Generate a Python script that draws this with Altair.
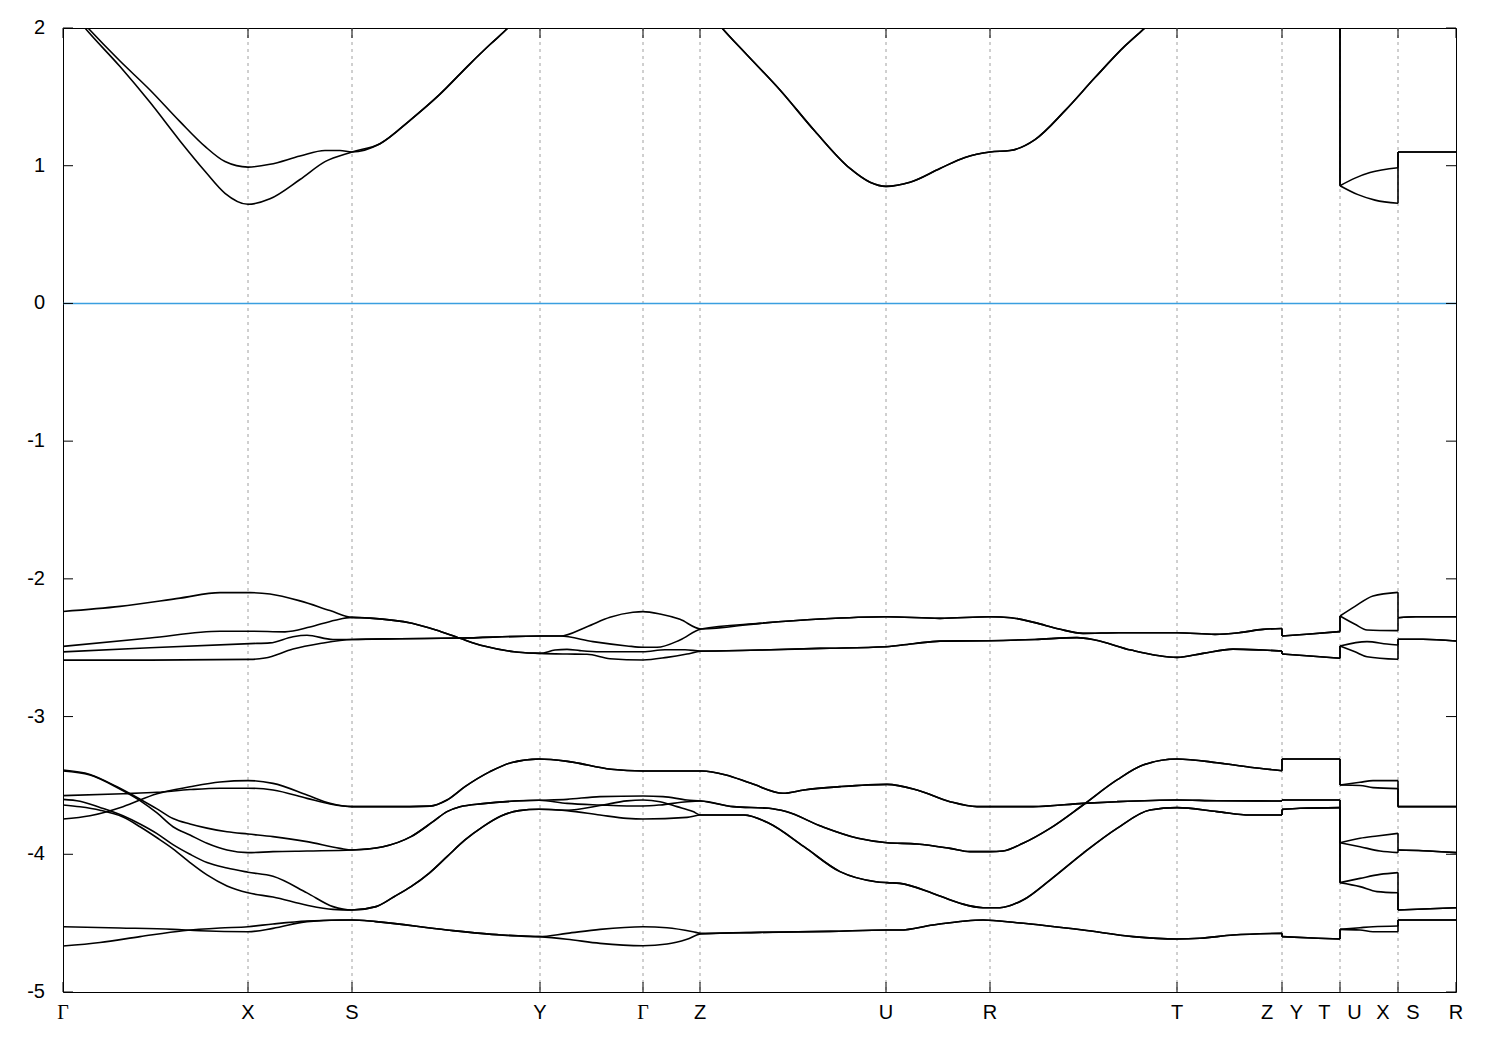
import altair as alt
import pandas as pd

# ---------------- axis ticks ----------------
k_ticks = [63, 248, 352, 540, 643, 700, 886, 990, 1177, 1282, 1340, 1398, 1456]
k_labels = ["Γ", "X", "S", "Y", "Γ", "Z", "U", "R", "T",
            "Z\u00a0\u00a0\u00a0Y", "T\u00a0\u00a0\u00a0U", "X\u00a0\u00a0\u00a0S", "R"]
y_ticks = [-5, -4, -3, -2, -1, 0, 1, 2]

# ---------------- conduction bands (k, E) ----------------
c2_GS = [(63, 2.2), (88, 2.0), (120, 1.76), (150, 1.55), (180, 1.32), (205, 1.14), (225, 1.03),
         (248, 0.99), (270, 1.01), (300, 1.07), (325, 1.11), (340, 1.11), (352, 1.10)]
c1_GS = [(63, 2.2), (85, 2.0), (120, 1.72), (150, 1.46), (180, 1.18), (205, 0.96), (225, 0.80),
         (248, 0.72), (270, 0.76), (300, 0.90), (325, 1.03), (352, 1.10)]
cond_SZ = [(352, 1.10), (380, 1.16), (410, 1.33), (440, 1.52), (470, 1.74), (490, 1.88), (508, 2.0),
           (540, 2.25), (600, 2.5), (643, 2.55), (680, 2.35), (700, 2.2), (722, 2.0), (745, 1.82),
           (780, 1.55), (815, 1.25), (850, 0.98), (870, 0.88), (886, 0.85), (910, 0.88), (940, 0.98),
           (965, 1.06), (990, 1.10), (1010, 1.11), (1035, 1.19), (1065, 1.40), (1095, 1.64),
           (1125, 1.87), (1145, 2.0), (1177, 2.2), (1230, 2.35), (1282, 2.4)]

# ---------------- upper valence group ----------------
u1_GS = [(63, -2.237), (120, -2.20), (180, -2.14), (220, -2.10), (250, -2.10), (270, -2.11),
         (300, -2.16), (330, -2.23), (352, -2.28)]
u2_GS = [(63, -2.49), (150, -2.43), (220, -2.38), (250, -2.38), (285, -2.385), (310, -2.35),
         (335, -2.30), (352, -2.28)]
u3_GS = [(63, -2.53), (150, -2.50), (250, -2.47), (270, -2.465), (293, -2.42), (307, -2.41),
         (333, -2.44), (352, -2.44)]
u4_GS = [(63, -2.59), (150, -2.59), (250, -2.585), (265, -2.575), (293, -2.51), (320, -2.47),
         (352, -2.44)]
hi_SY = [(352, -2.28), (370, -2.285), (412, -2.323), (436, -2.372), (460, -2.432), (484, -2.488),
         (514, -2.529), (540, -2.541)]
lo_SY = [(352, -2.44), (400, -2.435), (460, -2.43), (540, -2.415), (560, -2.415)]
u1_YZ = [(555, -2.517), (567, -2.512), (580, -2.521), (600, -2.529), (643, -2.529), (665, -2.515),
         (685, -2.515), (701, -2.524)]
u2_YZ = [(567, -2.546), (587, -2.548), (610, -2.580), (643, -2.589), (667, -2.57), (687, -2.546),
         (701, -2.526)]
u3_YZ = [(587, -2.347), (610, -2.279), (633, -2.243), (643, -2.238), (660, -2.255), (680, -2.294),
         (701, -2.364)]
u4_YZ = [(593, -2.456), (627, -2.487), (643, -2.497), (657, -2.497), (680, -2.444), (701, -2.364)]
hi_ZZ = [(701, -2.364), (760, -2.323), (820, -2.292), (886, -2.275), (940, -2.287), (990, -2.275),
         (1011, -2.282), (1035, -2.318), (1059, -2.364), (1083, -2.396), (1119, -2.391),
         (1177, -2.391), (1215, -2.403), (1239, -2.391), (1263, -2.367), (1282, -2.36)]
lo_ZZ = [(701, -2.524), (760, -2.517), (820, -2.505), (886, -2.493), (915, -2.469), (940, -2.452),
         (990, -2.449), (1035, -2.44), (1077, -2.427), (1095, -2.444), (1131, -2.517),
         (1177, -2.570), (1203, -2.541), (1233, -2.51), (1263, -2.517), (1282, -2.524)]

# ---------------- lower valence group ----------------
p1_GS = [(63, -3.388), (90, -3.42), (117, -3.51), (140, -3.60), (157, -3.67), (173, -3.74),
         (190, -3.78), (207, -3.81), (227, -3.836), (248, -3.853), (273, -3.872), (307, -3.908),
         (340, -3.957), (352, -3.969)]
p2_GS = [(63, -3.395), (90, -3.425), (117, -3.515), (140, -3.61), (157, -3.70), (173, -3.80),
         (190, -3.86), (207, -3.92), (227, -3.969), (248, -3.988), (273, -3.981), (307, -3.976),
         (352, -3.969)]
p_SY = [(352, -3.969), (383, -3.945), (411, -3.872), (433, -3.763), (447, -3.69), (460, -3.655),
        (483, -3.632), (511, -3.615), (539, -3.608)]
alpha_YZ = [(539, -3.606), (567, -3.601), (600, -3.581), (643, -3.577), (663, -3.581), (687, -3.606),
            (701, -3.613)]
beta_YZ = [(539, -3.61), (567, -3.630), (600, -3.642), (627, -3.649), (643, -3.649), (660, -3.642),
           (687, -3.618), (701, -3.613)]
ab_ZZ = [(701, -3.613), (733, -3.654), (769, -3.666), (786, -3.69), (822, -3.799), (858, -3.884),
         (887, -3.916), (917, -3.925), (950, -3.957), (970, -3.981), (990, -3.981), (1003, -3.976),
         (1023, -3.92), (1050, -3.812), (1083, -3.642), (1117, -3.46), (1143, -3.352),
         (1177, -3.308), (1217, -3.335), (1250, -3.368), (1282, -3.393)]
q_GS = [(63, -3.574), (123, -3.56), (157, -3.55), (190, -3.53), (220, -3.52), (248, -3.52),
        (273, -3.533), (307, -3.594), (330, -3.635), (352, -3.654)]
r_GS = [(63, -3.744), (90, -3.72), (123, -3.654), (157, -3.56), (190, -3.51), (220, -3.475),
        (248, -3.465), (273, -3.485), (307, -3.569), (330, -3.63), (352, -3.654)]
qr_SZ = [(352, -3.654), (390, -3.654), (430, -3.65), (447, -3.606), (465, -3.509), (490, -3.40),
         (511, -3.335), (539, -3.308), (569, -3.327), (611, -3.383), (643, -3.395), (702, -3.395),
         (726, -3.424), (751, -3.485), (783, -3.557), (804, -3.533), (840, -3.509), (887, -3.492),
         (917, -3.533), (950, -3.618), (977, -3.654), (1033, -3.654), (1083, -3.63), (1117, -3.618),
         (1177, -3.606), (1217, -3.611), (1282, -3.613)]
m1_GS = [(63, -3.601), (80, -3.615), (100, -3.66), (123, -3.72), (140, -3.78), (157, -3.85),
         (173, -3.93), (190, -4.00), (207, -4.06), (227, -4.10), (248, -4.13), (273, -4.16),
         (307, -4.28), (333, -4.38), (352, -4.405)]
m2_GS = [(63, -3.642), (80, -3.655), (100, -3.68), (123, -3.73), (140, -3.80), (157, -3.88),
         (173, -3.96), (190, -4.06), (207, -4.15), (227, -4.23), (248, -4.28), (273, -4.31),
         (307, -4.37), (333, -4.40), (352, -4.405)]
m_SY = [(352, -4.405), (376, -4.38), (394, -4.308), (411, -4.235), (429, -4.138), (447, -4.017),
        (465, -3.896), (483, -3.799), (501, -3.722), (519, -3.683), (539, -3.673)]
gamma_YZ = [(539, -3.676), (567, -3.68), (600, -3.646), (627, -3.612), (643, -3.606), (660, -3.618),
            (677, -3.654), (693, -3.69), (701, -3.715)]
delta_YZ = [(539, -3.676), (567, -3.683), (600, -3.715), (627, -3.739), (643, -3.744), (687, -3.732),
            (701, -3.715)]
gd_ZZ = [(701, -3.715), (744, -3.715), (769, -3.775), (804, -3.945), (840, -4.126), (876, -4.199),
         (887, -4.206), (900, -4.211), (933, -4.284), (960, -4.356), (983, -4.388), (1000, -4.388),
         (1023, -4.332), (1050, -4.187), (1083, -3.993), (1117, -3.812), (1150, -3.678),
         (1177, -3.661), (1217, -3.69), (1250, -3.715), (1282, -3.715)]
b1_GS = [(63, -4.526), (120, -4.535), (173, -4.545), (200, -4.555), (248, -4.562), (273, -4.538),
         (307, -4.489), (340, -4.477), (352, -4.477)]
b2_GS = [(63, -4.666), (100, -4.64), (140, -4.598), (183, -4.555), (220, -4.535), (248, -4.526),
         (273, -4.506), (307, -4.485), (352, -4.477)]
b_SY = [(352, -4.477), (376, -4.489), (447, -4.55), (501, -4.586), (539, -4.598)]
b1_YZ = [(539, -4.598), (567, -4.574), (600, -4.545), (643, -4.526), (667, -4.533), (693, -4.562),
         (701, -4.574)]
b2_YZ = [(539, -4.598), (567, -4.617), (600, -4.647), (643, -4.664), (667, -4.652), (687, -4.617),
         (701, -4.579)]
b_ZZ = [(701, -4.576), (760, -4.567), (830, -4.56), (887, -4.55), (900, -4.55), (933, -4.513),
        (983, -4.477), (1017, -4.497), (1083, -4.55), (1133, -4.598), (1177, -4.615), (1200, -4.61),
        (1233, -4.586), (1282, -4.574)]

# ---------------- short pieces after the path breaks (14 bands, top to bottom) ----------------
piece_YT = [
    [(1282, 2.4), (1340, 2.4)], [(1282, 2.4), (1340, 2.4)],
    [(1282, -2.415), (1310, -2.40), (1340, -2.383)], [(1282, -2.415), (1310, -2.40), (1340, -2.383)],
    [(1282, -2.546), (1310, -2.56), (1340, -2.577)], [(1282, -2.546), (1310, -2.56), (1340, -2.577)],
    [(1282, -3.308), (1340, -3.308)], [(1282, -3.308), (1340, -3.308)],
    [(1282, -3.606), (1340, -3.606)], [(1282, -3.606), (1340, -3.606)],
    [(1282, -3.674), (1300, -3.666), (1340, -3.661)], [(1282, -3.674), (1300, -3.666), (1340, -3.661)],
    [(1282, -4.598), (1318, -4.61), (1340, -4.615)], [(1282, -4.598), (1318, -4.61), (1340, -4.615)],
]
piece_UX = [
    [(1340, 0.855), (1355, 0.91), (1370, 0.95), (1398, 0.985)],
    [(1340, 0.855), (1358, 0.79), (1375, 0.75), (1398, 0.727)],
    [(1340, -2.27), (1355, -2.20), (1373, -2.124), (1398, -2.098)],
    [(1340, -2.27), (1355, -2.33), (1367, -2.371), (1398, -2.376)],
    [(1340, -2.488), (1367, -2.456), (1387, -2.473), (1398, -2.48)],
    [(1340, -2.488), (1355, -2.53), (1367, -2.565), (1398, -2.584)],
    [(1340, -3.497), (1360, -3.477), (1373, -3.465), (1398, -3.465)],
    [(1340, -3.497), (1360, -3.50), (1373, -3.516), (1398, -3.523)],
    [(1340, -3.916), (1360, -3.884), (1377, -3.867), (1398, -3.848)],
    [(1340, -3.916), (1360, -3.945), (1380, -3.976), (1398, -3.988)],
    [(1340, -4.206), (1360, -4.175), (1380, -4.146), (1398, -4.133)],
    [(1340, -4.206), (1360, -4.235), (1377, -4.271), (1398, -4.279)],
    [(1340, -4.545), (1360, -4.533), (1373, -4.526), (1398, -4.521)],
    [(1340, -4.545), (1360, -4.55), (1373, -4.562), (1398, -4.562)],
]
piece_SR = [
    [(1398, 1.10), (1456, 1.10)], [(1398, 1.10), (1456, 1.10)],
    [(1398, -2.282), (1416, -2.275), (1456, -2.275)], [(1398, -2.282), (1416, -2.275), (1456, -2.275)],
    [(1398, -2.439), (1423, -2.439), (1456, -2.451)], [(1398, -2.439), (1423, -2.439), (1456, -2.451)],
    [(1398, -3.654), (1456, -3.654)], [(1398, -3.654), (1456, -3.654)],
    [(1398, -3.969), (1423, -3.974), (1456, -3.988)], [(1398, -3.969), (1423, -3.974), (1456, -3.988)],
    [(1398, -4.405), (1456, -4.388)], [(1398, -4.405), (1456, -4.388)],
    [(1398, -4.477), (1456, -4.477)], [(1398, -4.477), (1456, -4.477)],
]


def join(*segs):
    out = []
    for s in segs:
        for k, e in s:
            if out and k <= out[-1][0]:
                continue
            out.append((k, e))
    return out


piece_GZ = [
    join(c2_GS, cond_SZ), join(c1_GS, cond_SZ),
    join(u3_GS, lo_SY, u3_YZ, hi_ZZ), join(u4_GS, lo_SY, u4_YZ, hi_ZZ),
    join(u1_GS, hi_SY, u1_YZ, lo_ZZ), join(u2_GS, hi_SY, u2_YZ, lo_ZZ),
    join(p1_GS, p_SY, alpha_YZ, ab_ZZ), join(p2_GS, p_SY, beta_YZ, ab_ZZ),
    join(q_GS, qr_SZ), join(r_GS, qr_SZ),
    join(m1_GS, m_SY, gamma_YZ, gd_ZZ), join(m2_GS, m_SY, delta_YZ, gd_ZZ),
    join(b1_GS, b_SY, b1_YZ, b_ZZ), join(b2_GS, b_SY, b2_YZ, b_ZZ),
]

pieces = [piece_GZ, piece_YT, piece_UX, piece_SR]
rows, jumps = [], []
for b in range(14):
    for p, piece in enumerate(pieces):
        for k, e in piece[b]:
            rows.append({"seg": f"{b}-{p}", "k": k, "E": e})
        if p > 0:
            prev = pieces[p - 1][b][-1]
            jumps.append({"k": piece[b][0][0], "E1": prev[1], "E2": piece[b][0][1]})
bands = pd.DataFrame(rows)
jump_df = pd.DataFrame(jumps)

W, H = 1393, 964
xs = alt.Scale(domain=[k_ticks[0], k_ticks[-1]], nice=False, zero=False)
ys = alt.Scale(domain=[-5, 2], nice=False, zero=False)
FONT = "Liberation Sans"

lines = alt.Chart(bands).mark_line(color="black", strokeWidth=1.6, interpolate="monotone",
                                   clip=True).encode(
    x=alt.X("k:Q", scale=xs, axis=None),
    y=alt.Y("E:Q", scale=ys, axis=None),
    detail="seg:N",
)

grid = alt.Chart(pd.DataFrame({"k": k_ticks[1:-1]})).mark_rule(
    color="#a0a0a0", strokeWidth=1, strokeDash=[3, 4]).encode(
    x=alt.X("k:Q", scale=xs, axis=None))

zero = alt.Chart(pd.DataFrame({"E": [0]})).mark_rule(color="#3a9fe0", strokeWidth=1.5).encode(
    y=alt.Y("E:Q", scale=ys, axis=None))

conn = alt.Chart(jump_df).mark_rule(color="black", strokeWidth=1.6, clip=True).encode(
    x=alt.X("k:Q", scale=xs, axis=None),
    y=alt.Y("E1:Q", scale=ys, axis=None),
    y2="E2:Q",
)

yt = pd.DataFrame({"E": y_ticks, "t": [str(v) for v in y_ticks]})
xt = pd.DataFrame({"k": k_ticks, "t": k_labels})
tl = alt.Chart(yt).mark_rule(color="black").encode(
    y=alt.Y("E:Q", scale=ys, axis=None), x=alt.value(0), x2=alt.value(10))
tr = alt.Chart(yt).mark_rule(color="black").encode(
    y=alt.Y("E:Q", scale=ys, axis=None), x=alt.value(W - 10), x2=alt.value(W))
tb = alt.Chart(xt).mark_rule(color="black").encode(
    x=alt.X("k:Q", scale=xs, axis=None), y=alt.value(H - 10), y2=alt.value(H))
tt = alt.Chart(xt).mark_rule(color="black").encode(
    x=alt.X("k:Q", scale=xs, axis=None), y=alt.value(0), y2=alt.value(10))

ylab = alt.Chart(yt).mark_text(align="right", baseline="middle", font=FONT, fontSize=20,
                               color="black").encode(
    y=alt.Y("E:Q", scale=ys, axis=None), x=alt.value(-18), text="t:N")
xlab = alt.Chart(xt).transform_filter("datum.t != 'Γ'").mark_text(
    align="center", baseline="top", font=FONT, fontSize=20, color="black").encode(
    x=alt.X("k:Q", scale=xs, axis=None), y=alt.value(H + 11), text="t:N")
glab = alt.Chart(xt).transform_filter("datum.t == 'Γ'").mark_text(
    align="center", baseline="top", font="Liberation Serif", fontSize=20, color="black").encode(
    x=alt.X("k:Q", scale=xs, axis=None), y=alt.value(H + 11), text="t:N")

chart = alt.layer(grid, zero, lines, conn, tl, tr, tb, tt, ylab, xlab, glab).properties(
    width=W, height=H,
    autosize=alt.AutoSizeParams(type="none"),
    padding={"left": 55, "top": 20, "right": 30, "bottom": 45},
    background="white",
).configure_view(stroke="black", strokeWidth=1)

chart.save("out.html", embed_options={"renderer": "svg", "actions": False})
